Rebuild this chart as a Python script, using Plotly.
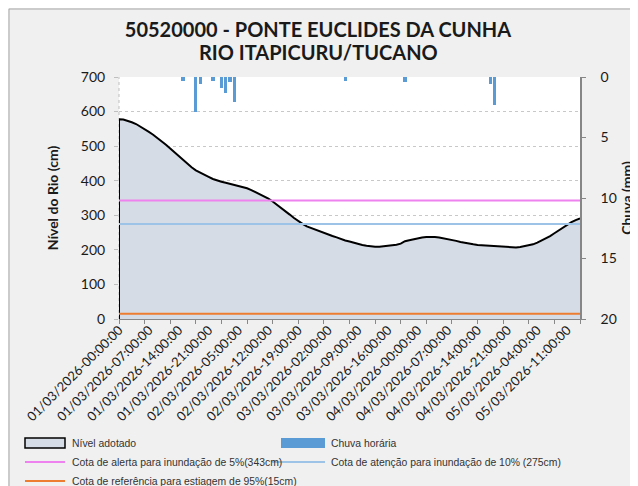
import plotly.graph_objects as go

# ---------------- data ----------------
tick_labels = [
    "01/03/2026-00:00:00", "01/03/2026-07:00:00", "01/03/2026-14:00:00", "01/03/2026-21:00:00",
    "02/03/2026-05:00:00", "02/03/2026-12:00:00", "02/03/2026-19:00:00", "03/03/2026-02:00:00",
    "03/03/2026-09:00:00", "03/03/2026-16:00:00", "04/03/2026-00:00:00", "04/03/2026-07:00:00",
    "04/03/2026-14:00:00", "04/03/2026-21:00:00", "05/03/2026-04:00:00", "05/03/2026-11:00:00",
]
label_step = 7
tick_mark_step = 6

level_cm = [
    578, 577, 574, 569, 564, 557, 549, 541, 533, 524,
    514, 504, 493, 482, 471, 460, 449, 439, 430, 423,
    417, 411, 405, 400, 397, 394, 391, 389, 386, 383,
    378, 373, 367, 361, 355, 348, 340, 331, 321, 312,
    302, 292, 283, 275, 268, 263, 258, 253, 249, 245,
    240, 236, 231, 227, 224, 220, 217, 214, 212, 210,
    209, 209, 210, 211, 213, 215, 218, 225, 228, 231,
    234, 236, 237, 238, 237, 236, 234, 232, 229, 226,
    223, 220, 218, 216, 214, 213, 212, 211, 211, 210,
    209, 208, 207, 207, 208, 210, 213, 216, 221, 227,
    233, 240, 248, 256, 265, 273, 280, 286, 291,
]

rain_hour_index = [15, 18, 19, 22, 24, 25, 26, 27, 53, 67, 87, 88]
rain_mm = [0.3, 2.9, 0.6, 0.3, 0.9, 1.3, 0.4, 2.1, 0.3, 0.4, 0.6, 2.3]

alert_cm = 343
attention_cm = 275
drought_cm = 15

title_line1 = "50520000 - PONTE EUCLIDES DA CUNHA"
title_line2 = "RIO ITAPICURU/TUCANO"

# ---------------- styling ----------------
C_FILL = "#d6dce5"
C_RAIN = "#5b9bd5"
C_ALERT = "#ee82ee"
C_ATTN = "#9dc3e6"
C_DRY = "#ed7d31"

font_main = "Lato, 'Open Sans', sans-serif"
font_legend = "'Liberation Sans', Arial, sans-serif"

# figure geometry (page has an 8px body margin, figure drawn from there)
W, H = 638, 486
ML, MT, PW, PH = 111, 69, 461, 242
MR, MB = W - ML - PW, H - MT - PH


def px_x(xf):
    return (xf - ML) / PW


def px_y(yf):
    return 1 - (yf - MT) / PH


hours = list(range(len(level_cm)))
x_max = hours[-1]

fig = go.Figure()

fig.add_trace(go.Scatter(
    x=[hours[0]] + hours, y=[0] + level_cm,
    mode="lines", fill="tozeroy", fillcolor=C_FILL,
    line=dict(color="black", width=2),
    name="Nível adotado",
))

fig.add_trace(go.Bar(
    x=rain_hour_index, y=rain_mm, xaxis="x2", yaxis="y2",
    marker=dict(color=C_RAIN, line=dict(width=0)), width=0.75,
    name="Chuva horária",
))

fig.add_trace(go.Scatter(
    x=hours, y=[alert_cm] * len(hours), mode="lines",
    line=dict(color=C_ALERT, width=2),
    name="Cota de alerta para inundação de 5%(343cm)",
))
fig.add_trace(go.Scatter(
    x=hours, y=[attention_cm] * len(hours), mode="lines",
    line=dict(color=C_ATTN, width=2),
    name="Cota de atenção para inundação de 10% (275cm)",
))
fig.add_trace(go.Scatter(
    x=hours, y=[drought_cm] * len(hours), mode="lines",
    line=dict(color=C_DRY, width=2),
    name="Cota de referência para estiagem de 95%(15cm)",
))

# ---------------- legend (drawn below the plot, Excel style) ----------------
shapes = [
    dict(type="line", xref="paper", yref="paper", x0=0, x1=0, y0=0, y1=1,
         line=dict(color="#bfbfbf", width=1, dash="dot"), layer="below"),
    dict(type="rect", xref="paper", yref="paper",
         x0=px_x(1), x1=px_x(W + 20), y0=px_y(H + 20), y1=px_y(1),
         line=dict(color="#a6a6a6", width=1), fillcolor="rgba(0,0,0,0)", layer="below"),
]
annotations = [
    dict(text="<b>" + title_line2 + "</b>", xref="paper", yref="paper",
         x=px_x(310), y=px_y(44), xanchor="center", yanchor="middle", showarrow=False,
         font=dict(size=20, family=font_main, color="#1a1a1a")),
]

rows = [435, 454, 473]
col_sym = [(17, 57), (264, 317)]
col_txt = [62, 321]
entries = [
    (0, 0, "rect", C_FILL, "black", fig.data[0].name),
    (0, 1, "rect", C_RAIN, None, fig.data[1].name),
    (1, 0, "line", C_ALERT, None, fig.data[2].name),
    (1, 1, "line", C_ATTN, None, fig.data[3].name),
    (2, 0, "line", C_DRY, None, fig.data[4].name),
]
for r, c, kind, color, edge, label in entries:
    yc = rows[r]
    x0, x1 = col_sym[c]
    if kind == "rect":
        if c == 1:
            x0 = 273
        shapes.append(dict(
            type="rect", xref="paper", yref="paper",
            x0=px_x(x0), x1=px_x(x1), y0=px_y(yc + 5), y1=px_y(yc - 5),
            fillcolor=color,
            line=dict(color=edge if edge else color, width=1.5 if edge else 0),
        ))
    else:
        shapes.append(dict(
            type="line", xref="paper", yref="paper",
            x0=px_x(x0), x1=px_x(x1), y0=px_y(yc), y1=px_y(yc),
            line=dict(color=color, width=2),
        ))
    annotations.append(dict(
        text=label, xref="paper", yref="paper",
        x=px_x(col_txt[c]), y=px_y(yc), xanchor="left", yanchor="middle",
        showarrow=False, font=dict(size=10.4, family=font_legend, color="#333333"),
    ))

fig.update_layout(
    width=W, height=H,
    margin=dict(l=ML, r=MR, t=MT, b=MB, autoexpand=False),
    paper_bgcolor="#f0f0f0",
    plot_bgcolor="white",
    font=dict(family=font_main, color="#1a1a1a"),
    title=dict(
        text="<b>" + title_line1 + "</b>",
        x=310 / W, xanchor="center", y=1 - 22 / H, yanchor="middle",
        font=dict(size=20, family=font_main, color="#1a1a1a"),
    ),
    bargap=0,
    showlegend=False,
    xaxis=dict(
        range=[0, x_max], tickvals=hours[::tick_mark_step],
        showticklabels=False, ticks="outside", ticklen=4, tickcolor="#888888",
        showline=True, linecolor="#888888", linewidth=1,
        showgrid=False, zeroline=False, automargin=False,
    ),
    xaxis2=dict(
        overlaying="x", anchor="y", side="bottom",
        range=[0, x_max],
        tickvals=hours[::label_step][:len(tick_labels)], ticktext=tick_labels,
        tickangle=-45, ticks="", showgrid=False, showline=False, zeroline=False,
        tickfont=dict(size=13, family=font_main, color="#1a1a1a"), automargin=False,
    ),
    yaxis=dict(
        range=[0, 700], dtick=100,
        showgrid=True, gridcolor="#c8c8c8", griddash="dot", gridwidth=1,
        ticks="outside", ticklen=4, tickcolor="#bfbfbf", ticklabelstandoff=6,
        showline=False, zeroline=False, automargin=False,
        tickfont=dict(size=14, family=font_main, color="#1a1a1a"),
        title=dict(text="<b>Nível do Rio (cm)</b>", font=dict(size=14, family=font_main), standoff=18),
    ),
    yaxis2=dict(
        overlaying="y", side="right", anchor="x",
        range=[20, 0], dtick=5,
        showgrid=False, zeroline=False, automargin=False,
        showline=True, linecolor="#868686", linewidth=1.5,
        ticks="outside", ticklen=4, tickcolor="#868686", ticklabelstandoff=12,
        tickfont=dict(size=14, family=font_main, color="#1a1a1a"),
        title=dict(text="<b>Chuva (mm)</b>", font=dict(size=14, family=font_main), standoff=6),
    ),
    shapes=shapes,
    annotations=annotations,
)

fig.write_html("out.html")
